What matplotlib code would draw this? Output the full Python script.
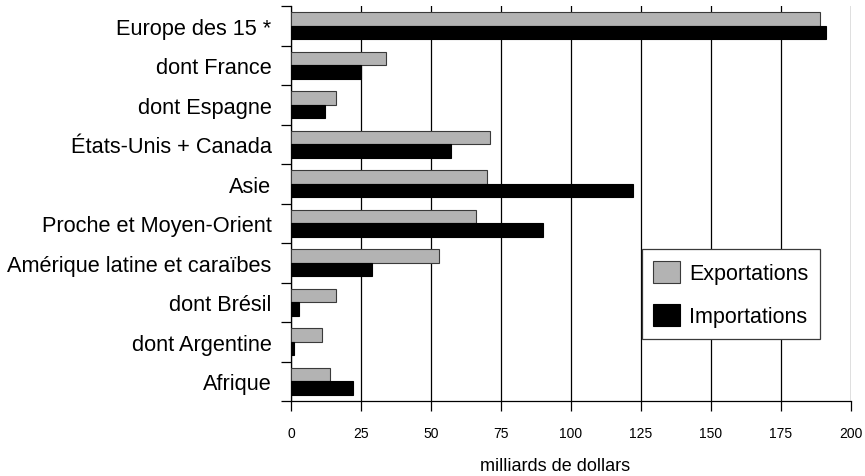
import matplotlib
matplotlib.use("Agg")
import matplotlib.pyplot as plt
import numpy as np

plt.rcParams['font.family'] = ['Liberation Sans', 'DejaVu Sans']

categories = ["Europe des 15 *", "dont France", "dont Espagne", "États-Unis + Canada",
              "Asie", "Proche et Moyen-Orient", "Amérique latine et caraïbes",
              "dont Brésil", "dont Argentine", "Afrique"]
exportations = [189, 34, 16, 71, 70, 66, 53, 16, 11, 14]
importations = [191, 25, 12, 57, 122, 90, 29, 3, 1, 22]
xticks = [0, 25, 50, 75, 100, 125, 150, 175, 200]
xlabel = "milliards de dollars"

fig = plt.figure(figsize=(8.65, 4.77), dpi=100)
ax = fig.add_axes([291/865, 75/477, 560/865, 395/477])

y = np.arange(len(categories))
h = 0.34
ax.barh(y - h/2, exportations, height=h, color='#b3b3b3', edgecolor='#3a3a3a',
        linewidth=0.8, label='Exportations', zorder=3)
ax.barh(y + h/2, importations, height=h, color='#000000', edgecolor='#000000',
        linewidth=0.8, label='Importations', zorder=3)

ax.set_xlim(0, 200)
ax.set_ylim(len(categories) - 0.5, -0.5)
ax.set_xticks(xticks)
ax.set_xticklabels([str(v) for v in xticks], fontsize=10)
ax.set_yticks(y)
ax.set_yticklabels(categories, fontsize=15.7)
ax.set_yticks(np.arange(len(categories) + 1) - 0.5, minor=True)
ax.tick_params(axis='y', which='major', length=0, pad=14)
ax.tick_params(axis='y', which='minor', length=7.2, width=0.9, direction='out')
ax.tick_params(axis='x', which='major', length=7.2, width=0.9, direction='out', pad=11)

ax.grid(axis='x', color='black', linewidth=0.9, zorder=0)
ax.set_axisbelow(True)
for s in ['top', 'right']:
    ax.spines[s].set_visible(False)
for s in ['left', 'bottom']:
    ax.spines[s].set_linewidth(0.9)

ax.set_xlabel(xlabel, fontsize=13)
ax.xaxis.set_label_coords(0.471, -0.143)

leg = ax.legend(loc='lower left', bbox_to_anchor=(0.626, 0.157), borderaxespad=0,
                fontsize=15.5, fancybox=False, frameon=True, handlelength=1.25,
                handleheight=1.25, handletextpad=0.4, borderpad=0.55,
                labelspacing=0.9)
leg.get_frame().set_edgecolor('#3a3a3a')
leg.get_frame().set_linewidth(0.9)
leg.get_frame().set_alpha(1)

fig.savefig("out.png", dpi=100)
